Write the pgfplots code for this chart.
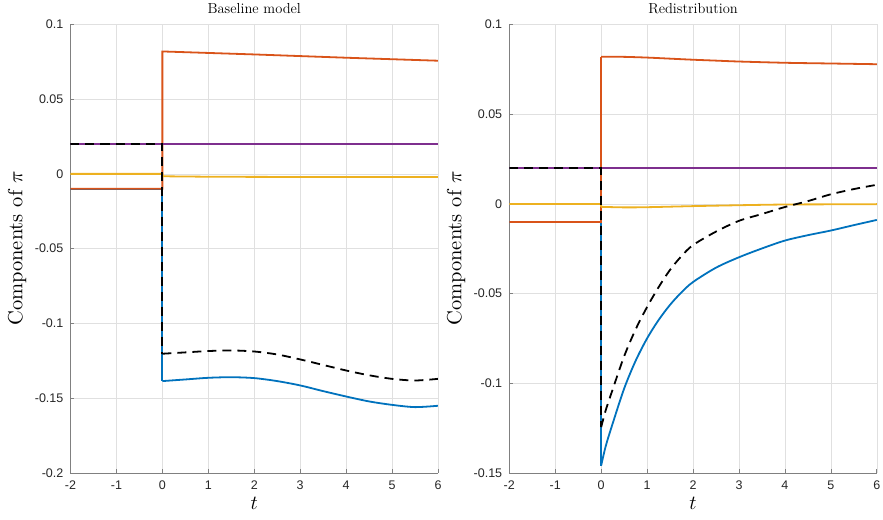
\documentclass[border=0pt]{standalone}
\usepackage{fontspec}
\newfontfamily\ticksf{Liberation Sans}
\usepackage{pgfplots}
\pgfplotsset{compat=1.18}

\definecolor{mblue}{rgb}{0,0.447,0.741}
\definecolor{morange}{rgb}{0.85,0.325,0.098}
\definecolor{myellow}{rgb}{0.929,0.694,0.125}
\definecolor{mpurple}{rgb}{0.494,0.184,0.556}

\pgfplotsset{
  panel/.style={
    scale only axis, width=367.5pt, height=448.5pt,
    xmin=-2, xmax=6,
    axis x line=bottom, axis y line=left,
    axis line style={-, black!50, line width=0.7pt},
    tick align=inside, major tick length=4pt,
    tick style={black!50, line width=0.7pt},
    grid=major, major grid style={black!12, line width=0.5pt},
    xtick={-2,-1,0,1,2,3,4,5,6},
    xticklabels={-2,-1,0,1,2,3,4,5,6},
    ticklabel style={font=\ticksf, text=black!85, scale=1.25},
    xticklabel style={inner sep=0pt, anchor=north, yshift=-6.5pt},
    yticklabel style={inner sep=0pt, anchor=east, xshift=-5.5pt},
    title style={at={(axis description cs:0.5,1)}, anchor=base, yshift=5pt,
      font=\fontsize{14.5}{16}\selectfont},
    xlabel={$t$}, ylabel={Components of $\pi$},
    xlabel style={at={(axis description cs:0.5,0)}, anchor=base, yshift=-37pt, scale=2.0},
    ylabel style={at={(axis description cs:-0.145,0.5)}, anchor=center, scale=2.05},
  },
  ln/.style={line width=1.8pt},
  dashblack/.style={ln, black, dash pattern=on 9pt off 6pt},
}

\begin{document}
\begin{tikzpicture}
% baseline model
\begin{axis}[panel, title={Baseline model},
    ymin=-0.2, ymax=0.1,
    ytick={-0.2,-0.15,-0.1,-0.05,0,0.05,0.1},
    yticklabels={-0.2,-0.15,-0.1,-0.05,0,0.05,0.1}]
  \addplot[ln, mblue] coordinates {(-2,-0.01) (0,-0.01) (0,-0.1386)};
  \addplot[ln, mblue, smooth] coordinates {(0,-0.1386) (0.5,-0.1375) (1,-0.1364)
    (1.5,-0.1360) (2,-0.1366) (2.5,-0.1386) (3,-0.1415) (3.5,-0.1453) (4,-0.1489)
    (4.5,-0.1522) (5,-0.1545) (5.5,-0.1560) (6,-0.1551)};
  \addplot[ln, morange] coordinates {(-2,-0.01) (0,-0.01) (0,0.0819) (1,0.0809) (2,0.0799)
    (3,0.0788) (4,0.0777) (5,0.0767) (6,0.0757)};
  \addplot[ln, myellow] coordinates {(-2,0) (0,0) (0,-0.0016) (1,-0.0019) (2,-0.0020)
    (4,-0.0021) (6,-0.0021)};
  \addplot[ln, mpurple] coordinates {(-2,0.02) (6,0.02)};
  \addplot[dashblack] coordinates {(-2,0.02) (0,0.02) (0,-0.1203)};
  \addplot[dashblack, smooth] coordinates {(0,-0.1203) (0.5,-0.1194) (1,-0.1185)
    (1.5,-0.1181) (2,-0.1188) (2.5,-0.1208) (3,-0.1241) (3.5,-0.1278) (4,-0.1315)
    (4.5,-0.1347) (5,-0.1371) (5.5,-0.1382) (6,-0.1371)};
\end{axis}
% redistribution
\begin{axis}[panel, at={(438.8pt,0)}, title={Redistribution},
    ymin=-0.15, ymax=0.1,
    ytick={-0.15,-0.1,-0.05,0,0.05,0.1},
    yticklabels={-0.15,-0.1,-0.05,0,0.05,0.1}]
  \addplot[ln, mblue] coordinates {(-2,-0.01) (0,-0.01) (0,-0.1459)};
  \addplot[ln, mblue, smooth] coordinates {(0,-0.1459) (0.1,-0.1350) (0.25,-0.1225)
    (0.5,-0.1030) (0.75,-0.0875) (1,-0.0750) (1.25,-0.0648) (1.5,-0.0563) (1.75,-0.0493)
    (2,-0.0436) (2.5,-0.0356) (3,-0.0298) (3.5,-0.0249) (4,-0.0205) (4.5,-0.0175)
    (5,-0.0149) (5.5,-0.0119) (6,-0.0090)};
  \addplot[ln, morange] coordinates {(-2,-0.01) (0,-0.01) (0,0.0820)};
  \addplot[ln, morange, smooth] coordinates {(0,0.0820) (0.5,0.0819) (1,0.0815)
    (1.5,0.0809) (2,0.0803) (2.5,0.0798) (3,0.0793) (4,0.0786) (5,0.0782) (6,0.0778)};
  \addplot[ln, myellow] coordinates {(-2,0) (0,0) (0,-0.0017)};
  \addplot[ln, myellow, smooth] coordinates {(0,-0.0017) (0.5,-0.0020) (1,-0.0019)
    (2,-0.0013) (3,-0.0008) (4,-0.0004) (5,-0.0003) (6,-0.0002)};
  \addplot[ln, mpurple] coordinates {(-2,0.02) (6,0.02)};
  \addplot[dashblack] coordinates {(-2,0.02) (0,0.02) (0,-0.1245)};
  \addplot[dashblack, smooth] coordinates {(0,-0.1245) (0.1,-0.1150) (0.25,-0.1035)
    (0.5,-0.0850) (0.75,-0.0700) (1,-0.0575) (1.25,-0.0465) (1.5,-0.0368) (1.75,-0.0291)
    (2,-0.0230) (2.5,-0.0155) (3,-0.0095) (3.5,-0.0057) (4,-0.0018) (4.5,0.0015)
    (5,0.0053) (5.5,0.0082) (6,0.0106)};
\end{axis}
\path (-70.5pt,-46.5pt) rectangle (812.5pt,470.5pt);
\end{tikzpicture}
\end{document}
